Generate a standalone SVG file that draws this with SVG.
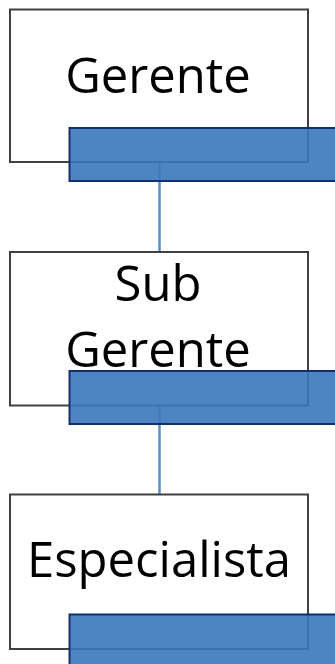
<svg xmlns="http://www.w3.org/2000/svg" width="335" height="664" viewBox="0 0 335 664">
<style>
.box{fill:#ffffff;stroke:#404040;stroke-width:2}
.tag{fill:#3A78BC;fill-opacity:0.9;stroke:#12306E;stroke-width:2}
.lbl{font-family:"Open Sans","Liberation Sans",sans-serif;font-size:49px;fill:#000000;text-anchor:middle}
.con{stroke:#5A8FCA;stroke-width:2.5;fill:none}
</style>
<rect width="335" height="664" fill="#ffffff"/>
<g id="connectors">
<line class="con" x1="159.5" y1="162" x2="159.5" y2="252"/>
<line class="con" x1="159.5" y1="405" x2="159.5" y2="494"/>
</g>
<g id="node-gerente">
<rect class="box" x="10" y="9.5" width="298" height="152.5"/>
<text class="lbl" x="158" y="93">Gerente</text>
<rect class="tag" x="69.5" y="128" width="280" height="53"/>
</g>
<g id="node-subgerente">
<rect class="box" x="10" y="252" width="298" height="153.5"/>
<text class="lbl" x="158" y="301">Sub</text>
<text class="lbl" x="158" y="367">Gerente</text>
<rect class="tag" x="69.5" y="371" width="280" height="53"/>
</g>
<g id="node-especialista">
<rect class="box" x="10" y="494.5" width="298" height="154.5"/>
<text class="lbl" x="159" y="577">Especialista</text>
<rect class="tag" x="69.5" y="614.5" width="280" height="60"/>
</g>
</svg>
